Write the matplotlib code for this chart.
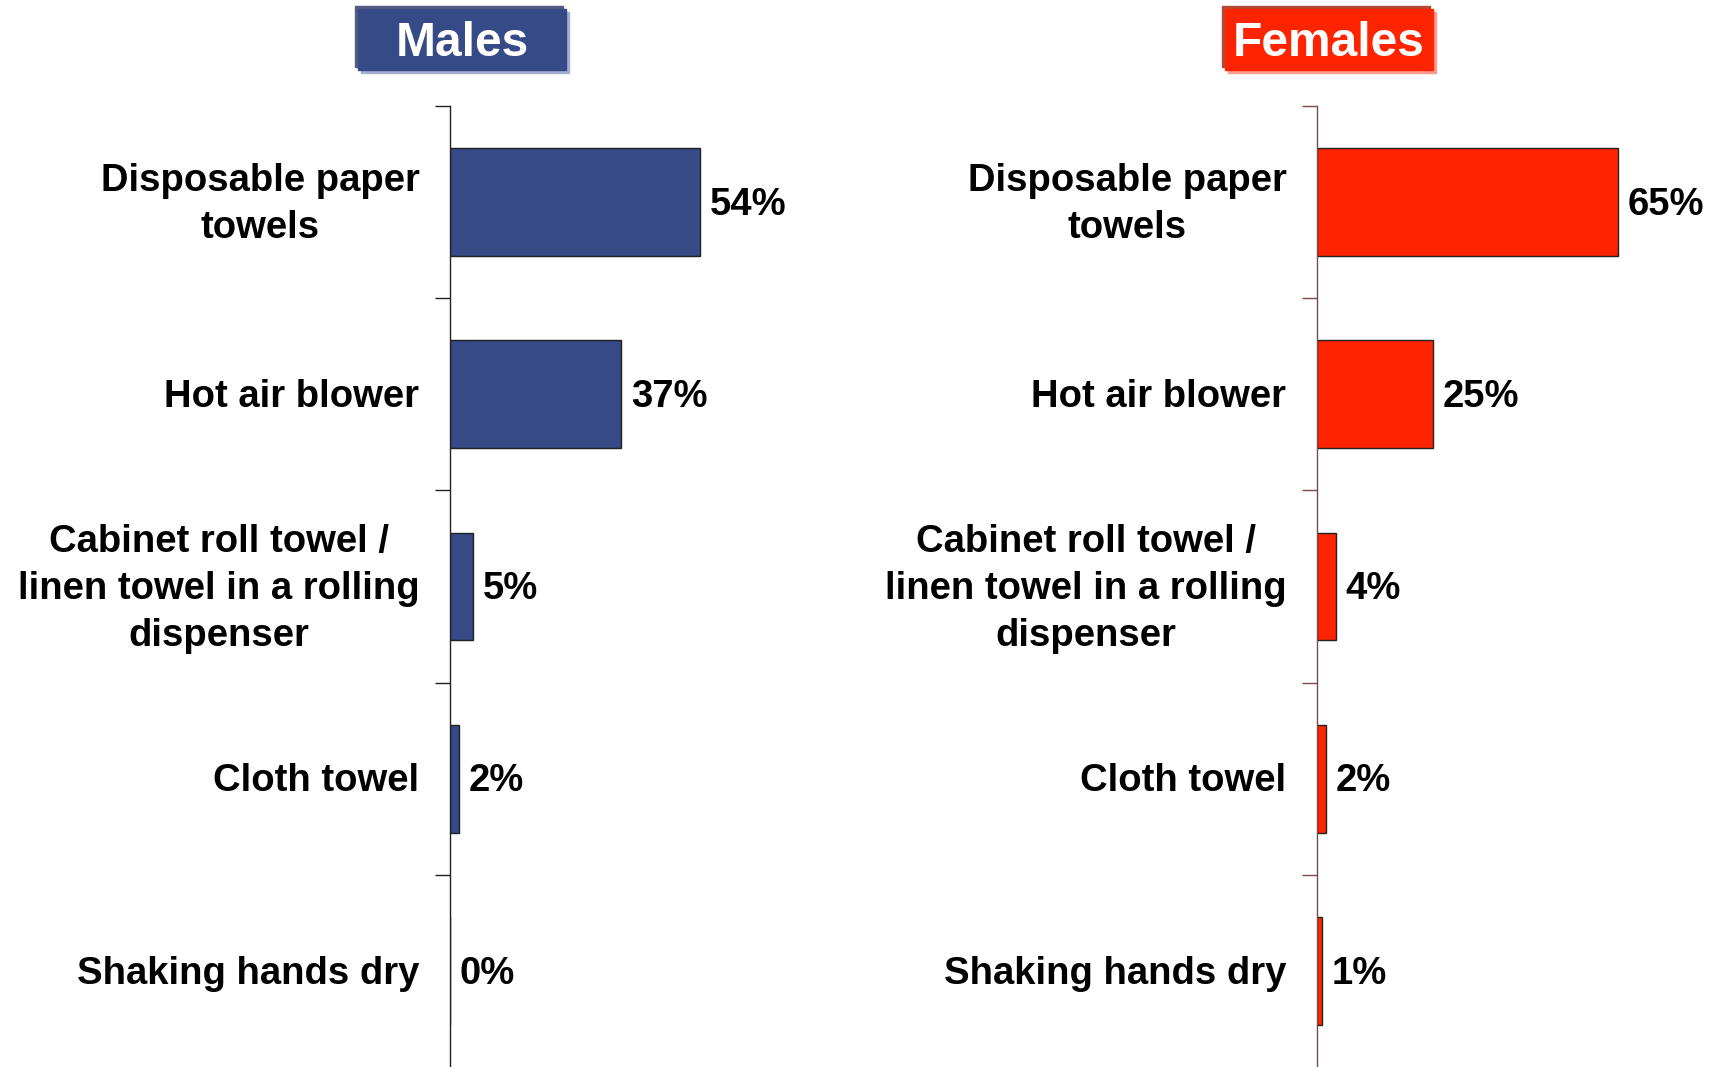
import matplotlib.pyplot as plt
from matplotlib.patches import Rectangle

plt.rcParams['font.family'] = ['Liberation Sans', 'DejaVu Sans']
plt.rcParams['font.weight'] = 'bold'

categories = ['Disposable paper\ntowels', 'Hot air blower',
              'Cabinet roll towel /\nlinen towel in a rolling\ndispenser',
              'Cloth towel', 'Shaking hands dry']
males = [54, 37, 5, 2, 0]
females = [65, 25, 4, 2, 1]

W, H = 1716, 1067
fig = plt.figure(figsize=(W / 100, H / 100), dpi=100, facecolor='white')

panels = [
    ('Males', males, '#354A86', 450, '#222222', '#535B7E', '#A6AED6'),
    ('Females', females, '#FF2400', 1317, '#7A4A4A', '#B04A3A', '#FF9A90'),
]

ax_w = 370
top = 106
for title, vals, col, left, spine_col, sh_dark, sh_light in panels:
    ax = fig.add_axes([left / W, 0, ax_w / W, (H - top) / H])
    y = list(range(len(categories)))
    ax.barh(y, vals, height=0.56, color=col, edgecolor='#222222', linewidth=1)
    for yi, v in zip(y, vals):
        ax.annotate(f'{v}%', (v, yi), xytext=(7, -2), textcoords='offset points',
                    ha='left', va='center', fontsize=27.5, fontweight='bold')
    # category labels
    for yi, cat in zip(y, categories):
        ax.annotate(cat, (0, yi), xycoords=('axes fraction', 'data'),
                    xytext=(-22, -2), textcoords='offset points',
                    ha='right', va='center', multialignment='center',
                    linespacing=1.4, fontsize=27.5, fontweight='bold',
                    annotation_clip=False)
    ax.set_xlim(0, 80)
    ax.set_ylim(len(categories) - 0.5, -0.5)
    ax.set_yticks([i - 0.5 for i in range(len(categories))])
    ax.set_yticklabels([])
    ax.tick_params(axis='y', length=11, width=1, color=spine_col)
    ax.set_xticks([])
    for s in ['top', 'right', 'bottom']:
        ax.spines[s].set_visible(False)
    ax.spines['left'].set_color(spine_col)
    ax.spines['left'].set_linewidth(1)

    # title box
    cx = left + 12
    bw, bh = 208, 61
    bx, by = cx - bw / 2, H - 9 - bh
    fig.add_artist(Rectangle(((bx + 3) / W, (by - 3) / H), bw / W, bh / H,
                             transform=fig.transFigure, color=sh_light, zorder=1))
    fig.add_artist(Rectangle(((bx - 3) / W, (by + 3) / H), bw / W, bh / H,
                             transform=fig.transFigure, color=sh_dark, zorder=2))
    fig.add_artist(Rectangle((bx / W, by / H), bw / W, bh / H,
                             transform=fig.transFigure, color=col, zorder=3))
    fig.text(cx / W, (by + bh / 2 - 4) / H, title, ha='center', va='center',
             color='white', fontsize=34.5, fontweight='bold', zorder=4)

fig.savefig('out.png', dpi=100, facecolor='white')
